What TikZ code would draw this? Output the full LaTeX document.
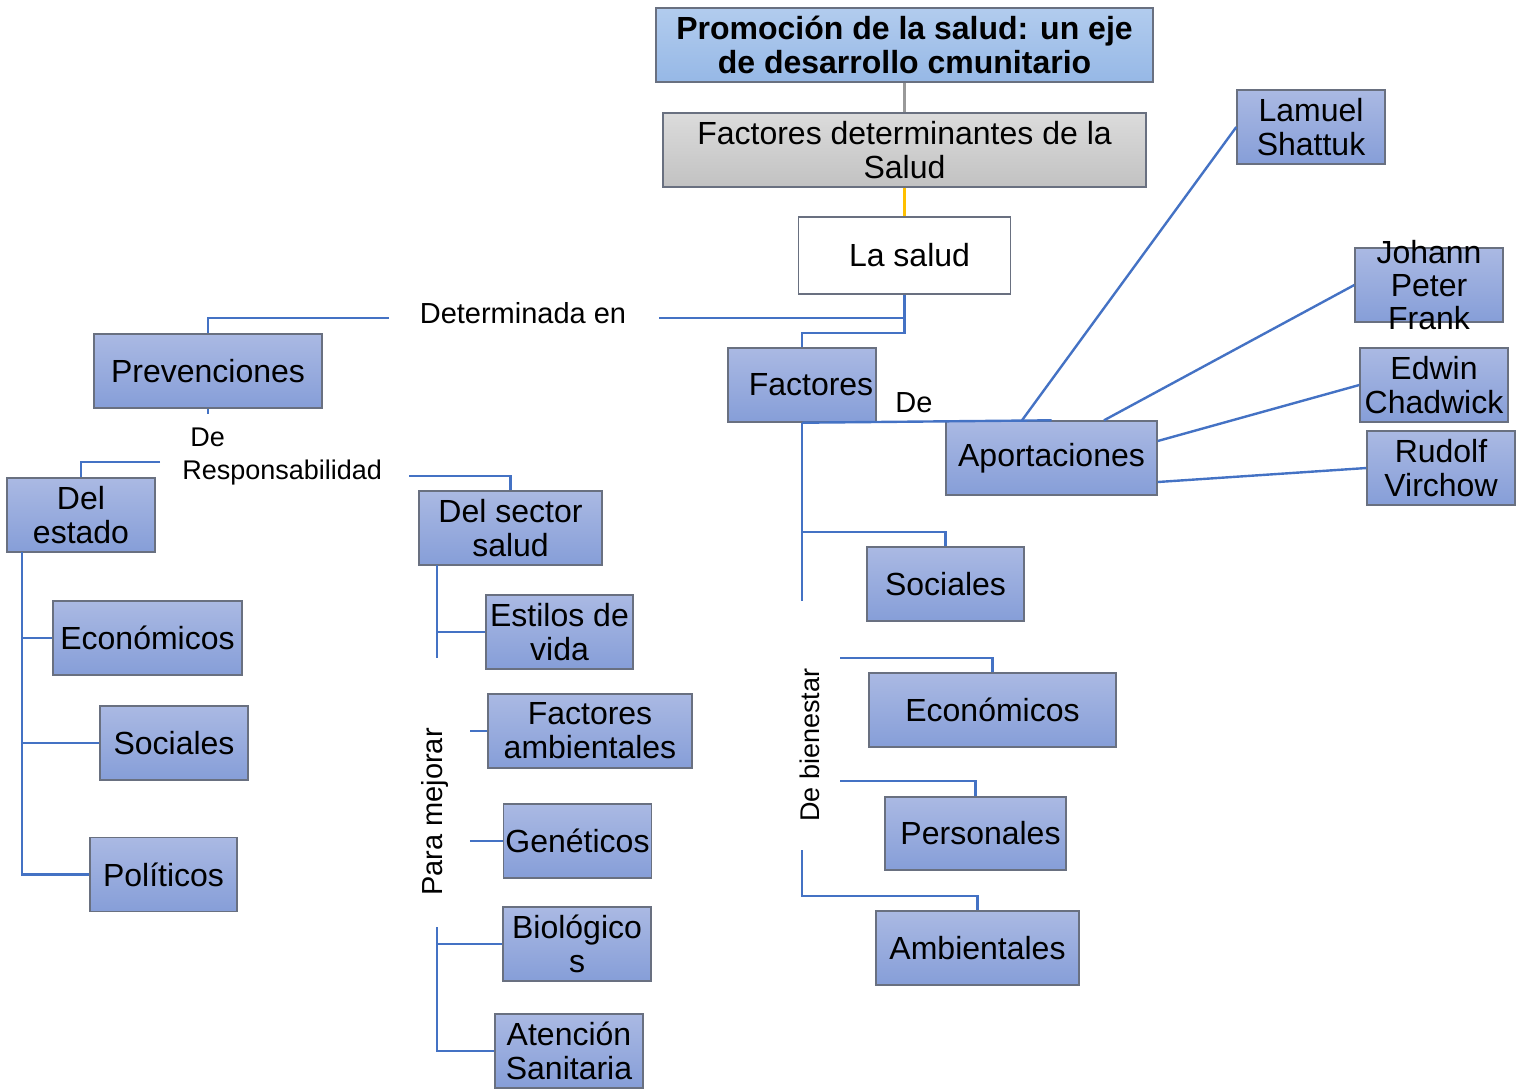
\documentclass[tikz,border=0pt]{standalone}
\usepackage{fontspec}
\setmainfont{Liberation Sans}
\definecolor{lineblue}{RGB}{68,114,196}
\definecolor{boxtop}{RGB}{170,185,227}
\definecolor{boxbot}{RGB}{134,158,216}
\definecolor{boxedge}{RGB}{105,112,128}
\definecolor{titletop}{RGB}{178,204,238}
\definecolor{titlebot}{RGB}{150,184,230}
\definecolor{orangeline}{RGB}{255,192,0}
\tikzset{
  box/.style={draw=boxedge, line width=0.7pt, top color=boxtop, bottom color=boxbot,
    align=center, inner sep=1pt, minimum height=37pt,
    font=\fontsize{16}{17}\selectfont},
  lbl/.style={inner sep=0pt, font=\fontsize{13.5}{16.5}\selectfont},
  link/.style={draw=lineblue, line width=1.2pt}
}
\begin{document}
\begin{tikzpicture}[x=0.5pt,y=-0.5pt]
    \useasboundingbox (0,0) rectangle (1525,1089);

    % cabecera
    \node [box, minimum width=248.5pt, top color=titletop, bottom color=titlebot,
      font=\bfseries\fontsize{16}{17}\selectfont] (titulo) at (904.5,45)
      {Promoción de la salud: un eje\\de desarrollo cmunitario};
    \node [box, minimum width=241.5pt, top color=gray!28, bottom color=gray!48] (determ) at (904.5,150)
      {Factores determinantes de la\\Salud};
    \node [box, minimum width=106pt, minimum height=38.5pt, top color=white, bottom color=white] (salud) at (904.5,255.5) {\hspace{5pt}La salud};
    \draw [gray!80, line width=1.2pt] (titulo) -- (determ);
    \draw [orangeline, line width=1.2pt] (determ) -- (salud);

    % determinada en
    \coordinate (detder) at (659,318);
    \coordinate (detizq) at (389,318);
    \node [lbl, font=\fontsize{14.5}{16.5}\selectfont] (determinada) at (523,313) {Determinada en};
    \node [box, minimum width=114pt] (prev) at (208,371) {Prevenciones};
    \draw [link] (salud.south |- detder) -- (detder);
    \draw [link] (detizq) -| (prev.north);
    \draw [link] (prev.south) -- ++(0,5);

    % responsabilidad
    \node [lbl, align=left, anchor=west] (resp) at (182,456) {\hspace{4pt}De\\Responsabilidad};
    \coordinate (respizq) at (160,462);
    \coordinate (respder) at (409,476);
    \node [box, minimum width=74pt] (estado) at (81,515) {Del\\estado};
    \node [box, minimum width=91.5pt] (sector) at (510.5,528) {Del sector\\salud};
    \draw [link] (respizq) -| (estado.north);
    \draw [link] (respder) -| (sector.north);

    \node [box, minimum width=94.5pt] (econ1) at (147.5,638) {Económicos};
    \node [box, minimum width=74pt] (soc1) at (174,743) {Sociales};
    \node [box, minimum width=73.5pt] (pol) at (163.5,874.5) {Políticos};
    \coordinate (tronco1) at (22,552);
    \draw [link] (tronco1) |- (pol.west);
    \draw [link] (tronco1 |- econ1) -- (econ1.west);
    \draw [link] (tronco1 |- soc1) -- (soc1.west);

    \node [box, minimum width=73.5pt] (estilos) at (559.5,632) {Estilos de\\vida};
    \coordinate (tronco2) at (437,565);
    \draw [link] (tronco2) -- ++(0,93);
    \draw [link] (tronco2 |- estilos) -- (estilos.west);

    % para mejorar
    \node [lbl, rotate=90, font=\fontsize{14.5}{16.5}\selectfont] (mejorar) at (435,812) {Para mejorar};
    \node [box, minimum width=102pt] (ambfac) at (590,731) {Factores\\ambientales};
    \node [box, minimum width=73.5pt] (genet) at (577.5,841) {Genéticos};
    \draw [link] ([xshift=-8.5pt]ambfac.west) -- (ambfac.west);
    \draw [link] ([xshift=-16.5pt]genet.west) -- (genet.west);

    \node [box, minimum width=74pt] (biolog) at (577,944) {Biológico\\s};
    \node [box, minimum width=74pt] (atencion) at (569,1051) {Atención\\Sanitaria};
    \coordinate (tronco3) at (437,927);
    \draw [link] (tronco3) |- (atencion.west);
    \draw [link] (tronco3 |- biolog) -- (biolog.west);

    % factores
    \node [box, minimum width=74pt] (factores) at (802,385) {\hspace{9pt}Factores};
    \draw [link] (salud.south) -- ++(0,38) -| (factores.north);
    \node [box, minimum width=105.5pt] (aport) at (1051.5,458) {Aportaciones};
    \node [lbl, font=\fontsize{14.5}{16.5}\selectfont] (de) at (914,403) {De};
    \draw [link] (factores.south) -- (aport.north);
    \draw [link] (factores.south) -- ++(0,178);
    \node [box, minimum width=78.5pt] (soc2) at (945.5,584) {Sociales};
    \draw [link] (factores.south |- 0,532) -| (soc2.north);

    % autores
    \node [box, minimum width=74pt] (lamuel) at (1311,127) {Lamuel\\Shattuk};
    \node [box, minimum width=74pt,
      label={[font=\fontsize{16}{16.5}\selectfont, align=center]center:Johann\\Peter\\Frank}] (johann) at (1429,285) {};
    \node [box, minimum width=74pt] (edwin) at (1434,385) {Edwin\\Chadwick};
    \node [box, minimum width=74pt] (rudolf) at (1441,468) {Rudolf\\Virchow};
    \draw [link] ([xshift=-14.75pt]aport.north) -- (lamuel.west);
    \draw [link] ([xshift=26.25pt]aport.north) -- (johann.west);
    \draw [link] ([yshift=8.5pt]aport.east) -- (edwin.west);
    \draw [link] ([yshift=-12pt]aport.east) -- (rudolf.west);

    % de bienestar
    \node [lbl] [rotate=90] (bienestar) at (810,745) {De bienestar};
    \node [box, minimum width=123.5pt] (econ2) at (992.5,710) {Económicos};
    \node [box, minimum width=90.5pt, minimum height=36.5pt] (pers) at (975.5,833.5) {\hspace{5pt}Personales};
    \node [box, minimum width=101.5pt] (ambs) at (977.5,948) {Ambientales};
    \coordinate (bien1) at (840,658);
    \coordinate (bien2) at (840,781);
    \coordinate (bien3) at (802,850);
    \draw [link] (bien1) -| (econ2.north);
    \draw [link] (bien2) -| (pers.north);
    \draw [link] (bien3) -- (bien3 |- 0,896) -| (ambs.north);

\end{tikzpicture}
\end{document}
